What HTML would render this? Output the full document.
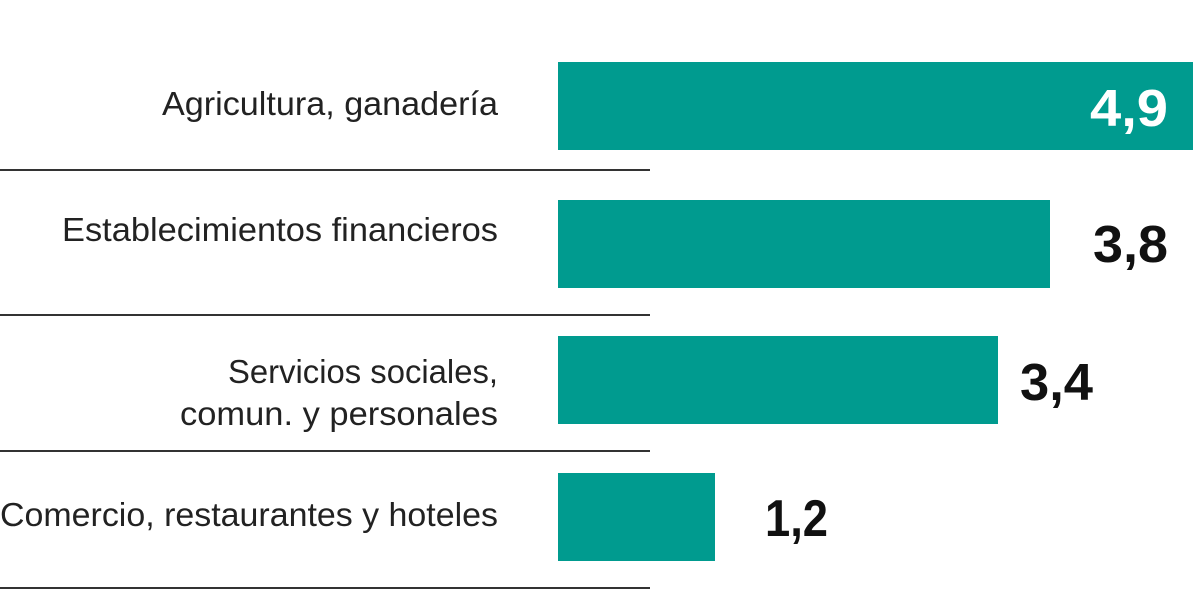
<!DOCTYPE html>
<html><head><meta charset="utf-8"><style>
html,body{margin:0;padding:0;background:#fff;width:1200px;height:600px;overflow:hidden}
</style></head><body>
<svg width="1200" height="600" xmlns="http://www.w3.org/2000/svg">
<g fill="#009b8f">
<rect x="558" y="62" width="635" height="88"/>
<rect x="558" y="200" width="492" height="88"/>
<rect x="558" y="336" width="440" height="88"/>
<rect x="558" y="473" width="157" height="88"/>
</g>
<g stroke="#333" stroke-width="2">
<line x1="0" y1="170" x2="650" y2="170"/>
<line x1="0" y1="315" x2="650" y2="315"/>
<line x1="0" y1="451" x2="650" y2="451"/>
<line x1="0" y1="588" x2="650" y2="588"/>
</g>
<g font-family="Liberation Sans, sans-serif" font-size="33" fill="#222" lengthAdjust="spacingAndGlyphs">
<text x="162" y="115" textLength="336" lengthAdjust="spacingAndGlyphs">Agricultura, ganadería</text>
<text x="62" y="241" textLength="436" lengthAdjust="spacingAndGlyphs">Establecimientos financieros</text>
<text x="228" y="383" textLength="270" lengthAdjust="spacingAndGlyphs">Servicios sociales,</text>
<text x="180" y="425" textLength="318" lengthAdjust="spacingAndGlyphs">comun. y personales</text>
<text x="0" y="526" textLength="498" lengthAdjust="spacingAndGlyphs">Comercio, restaurantes y hoteles</text>
</g>
<g font-family="Liberation Sans, sans-serif" font-weight="bold" font-size="52" fill="#111">
<text x="1090" y="126" fill="#fff" textLength="78" lengthAdjust="spacingAndGlyphs">4,9</text>
<text x="1093" y="262" textLength="75" lengthAdjust="spacingAndGlyphs">3,8</text>
<text x="1020" y="400" textLength="73" lengthAdjust="spacingAndGlyphs">3,4</text>
<text x="765" y="536" textLength="63" lengthAdjust="spacingAndGlyphs">1,2</text>
</g>
</svg>
</body></html>
